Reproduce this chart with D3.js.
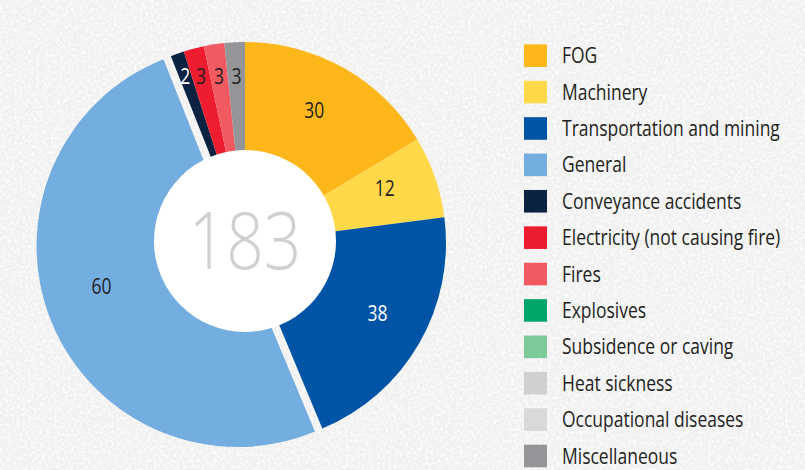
<!DOCTYPE html>
<html>
<head>
<meta charset="utf-8">
<script src="https://cdn.jsdelivr.net/npm/d3@7"></script>
<style>
  html, body { margin: 0; padding: 0; background: #f3f3f3; }
  svg { display: block; }
  text { font-family: "Open Sans", "Noto Sans", sans-serif; }
</style>
</head>
<body>
<svg id="chart" width="805" height="470"></svg>
<script>
// ---- data ----
const legendCategories = ["FOG", "Machinery", "Transportation and mining", "General",
  "Conveyance accidents", "Electricity (not causing fire)", "Fires", "Explosives",
  "Subsidence or caving", "Heat sickness", "Occupational diseases", "Miscellaneous"];
const legendColors = ["#fdb71a", "#ffd94a", "#0054a6", "#74addf", "#0b2240", "#ed1c2e",
  "#f15a60", "#00a56a", "#7cc99a", "#cfd0d2", "#d9d9db", "#939598"];

const sliceCategories = ["FOG", "Machinery", "Transportation and mining", "General",
  "Conveyance accidents", "Electricity (not causing fire)", "Fires", "Miscellaneous"];
// printed values
const sliceLabels = [30, 12, 38, 60, 2, 3, 3, 3];
// angular sizes as drawn in the picture (General covers about half the ring)
const sliceSizes = [30, 12, 38, 92, 2, 3, 3, 3];
const totalLabel = "183";

// ---- layout ----
const svg = d3.select("#chart");
const W = 805, H = 470;
const cx = 245, cy = 243, R = 201, innerR = 91;

// paper texture background
const defs = svg.append("defs");
const f = defs.append("filter").attr("id", "paper").attr("x", 0).attr("y", 0).attr("width", "100%").attr("height", "100%");
f.append("feTurbulence").attr("type", "fractalNoise").attr("baseFrequency", "0.35").attr("numOctaves", 3).attr("seed", 5).attr("result", "n");
f.append("feColorMatrix").attr("in", "n").attr("type", "matrix")
  .attr("values", "0 0 0 0 1  0 0 0 0 1  0 0 0 0 1  0 0 0 -2.2 1.3");
svg.append("rect").attr("width", W).attr("height", H).attr("fill", "#f0f0f0");
svg.append("rect").attr("width", W).attr("height", H).attr("fill", "#ffffff").attr("filter", "url(#paper)");

const color = d3.scaleOrdinal().domain(legendCategories).range(legendColors);

// condensed look: measure a reference string and squeeze horizontally
const probe = svg.append("text").style("font-size", "21px").text("Transportation and mining");
const kx = Math.min(1, 218 / probe.node().getComputedTextLength());
probe.remove();

const pie = d3.pie().sort(null).value(d => d.size);
const data = sliceCategories.map((c, i) => ({ cat: c, size: sliceSizes[i], label: sliceLabels[i] }));
const arcs = pie(data);
const arc = d3.arc().innerRadius(0).outerRadius(R);

const g = svg.append("g").attr("transform", `translate(${cx},${cy})`);
const explode = 8;

g.selectAll("path.slice").data(arcs).enter().append("path")
  .attr("class", "slice")
  .attr("d", arc)
  .attr("fill", d => color(d.data.cat))
  .attr("transform", d => {
    if (d.data.cat !== "General") return null;
    const a = (d.startAngle + d.endAngle) / 2;
    return `translate(${explode * Math.sin(a)},${-explode * Math.cos(a)})`;
  });

// white centre
g.append("circle").attr("cx", 0).attr("cy", -2).attr("r", innerR).attr("fill", "#ffffff");
g.append("text")
  .attr("transform", `translate(0,-2) scale(${kx},1)`)
  .attr("dy", "0.36em")
  .attr("text-anchor", "middle").attr("fill", "#cfd0d2")
  .style("font-size", "79px").style("font-weight", 300)
  .text(totalLabel);

// slice labels
const labelPos = d => {
  const frac = d.data.cat === "General" ? 0.54 : 0.5;
  const small = d.data.size < 5;
  const a = d.startAngle + (d.endAngle - d.startAngle) * frac - (small ? 0 : 0.035);
  const r = small ? 167 / Math.abs(Math.cos(a)) : 150;
  return [r * Math.sin(a), -r * Math.cos(a)];
};
const whiteLabel = new Set(["Conveyance accidents", "Transportation and mining"]);
g.selectAll("text.lbl").data(arcs).enter().append("text")
  .attr("class", "lbl")
  .attr("transform", d => `translate(${labelPos(d)[0]},${labelPos(d)[1]}) scale(${kx},1)`)
  .attr("dy", "0.36em")
  .attr("text-anchor", "middle")
  .attr("fill", d => whiteLabel.has(d.data.cat) ? "#ffffff" : "#231f20")
  .style("font-size", "21px")
  .text(d => d.data.label);

// legend
const ly = d3.scalePoint().domain(legendCategories).range([55.7, 456]);
const leg = svg.append("g");
const items = leg.selectAll("g").data(legendCategories).enter().append("g")
  .attr("transform", d => `translate(524,${ly(d)})`);
items.append("rect").attr("x", 0).attr("y", -11.3).attr("width", 23).attr("height", 22.6)
  .attr("fill", d => color(d));
items.append("text")
  .attr("transform", `translate(38,0) scale(${kx},1)`)
  .attr("dy", "0.36em")
  .attr("fill", "#231f20").style("font-size", "21px")
  .text(d => d);
</script>
</body>
</html>
